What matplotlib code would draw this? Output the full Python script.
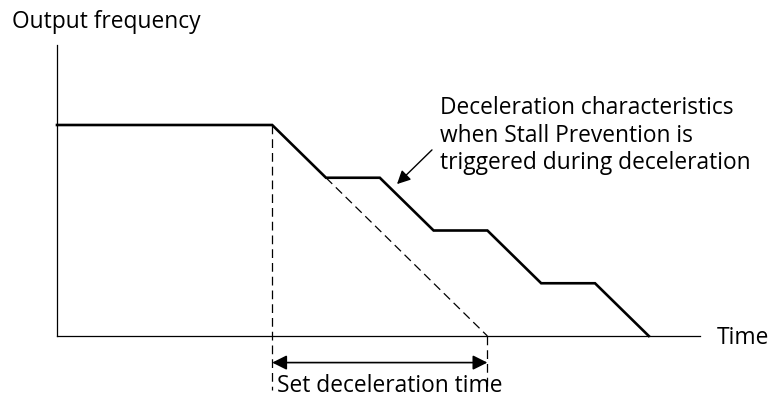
import matplotlib.pyplot as plt
import numpy as np

plt.rcParams['font.family'] = ['Open Sans', 'DejaVu Sans']

# output frequency profile with stall prevention (steps held during deceleration)
stall_time = [0, 4, 5, 6, 7, 8, 9, 10, 11]
stall_freq = [100, 100, 75, 75, 50, 50, 25, 25, 0]

# ideal linear deceleration over the set deceleration time
set_time = [4, 8]
set_freq = [100, 0]

time_end = 11.95
freq_top = 138

fig = plt.figure(figsize=(7.72, 4), dpi=100)
ax = fig.add_axes([0, 0, 1, 1])
ax.set_xlim(-1.0595, 13.29)
ax.set_ylim(-30.33, 159.24)
ax.axis('off')

# axes
ax.plot([0, 0], [0, freq_top], color='black', lw=0.9)
ax.plot([0, time_end], [0, 0], color='black', lw=0.9)

# dashed reference ramp and the markers for the deceleration time
ax.plot([stall_time[2], set_time[1]],
        [stall_freq[2], set_freq[1]], color='black', lw=0.9,
        linestyle=(0, (7, 4)))
ax.plot([set_time[0], set_time[0]], [set_freq[0], -25.5], color='black',
        lw=0.9, linestyle=(0, (7, 4)))
ax.plot([set_time[1], set_time[1]], [set_freq[1], -25.5], color='black',
        lw=0.9, linestyle=(0, (7, 4)))

# actual frequency
ax.plot(stall_time, stall_freq, color='black', lw=1.9,
        solid_joinstyle='miter')

# double arrow for the set deceleration time
ax.annotate('', xy=(set_time[0], -12.6), xytext=(set_time[1], -12.6),
            arrowprops=dict(arrowstyle='<|-|>', color='black', lw=1.2,
                            mutation_scale=22, shrinkA=0, shrinkB=0))

fs = 16.4
ax.text(4.09, -23.5, 'Set deceleration time', fontsize=fs,
        va='center', ha='left')

ax.text(-0.84, 148.8, 'Output frequency', fontsize=fs, va='center',
        ha='left')
ax.text(12.27, -0.9, 'Time', fontsize=fs, va='center', ha='left')

ax.text(7.12, 95.0,
        'Deceleration characteristics\nwhen Stall Prevention is\ntriggered during deceleration',
        fontsize=fs, va='center', ha='left', linespacing=1.2)
ax.annotate('', xy=(6.32, 72.0), xytext=(6.97, 88.2),
            arrowprops=dict(arrowstyle='-|>', color='black', lw=1.0,
                            mutation_scale=20, shrinkA=0, shrinkB=0))

plt.savefig('out.png', dpi=100)
